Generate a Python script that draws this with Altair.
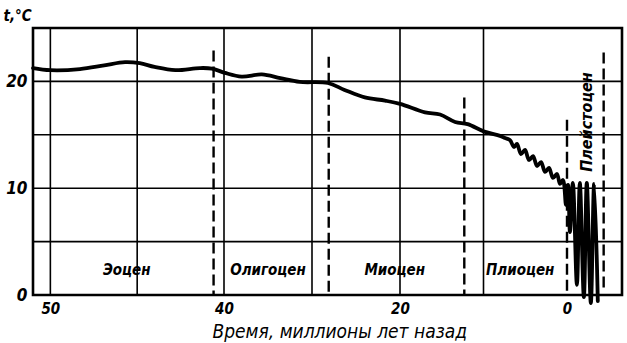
import altair as alt
import pandas as pd

# ---- data (time in million years ago; right of 0 the Pleistocene is drawn on an expanded scale)
curve_time = [51.0, 50.0, 48.3, 46.9, 45.7, 44.85, 44.0, 42.8, 41.4, 40.7, 39.9, 38.0, 35.7,
              33.6, 31.4, 28.2, 26.3, 24.0, 21.7, 20.0, 17.0, 15.2, 13.4, 11.9, 9.9, 8.02, 7.43,
              6.83, 6.35, 5.99, 5.51, 5.03, 4.55, 4.07, 3.59, 3.11, 2.63, 2.16, 1.68, 1.20, 0.84,
              0.48, 0.12, -0.03, -0.08, -0.16, -0.27, -0.35, -0.46, -0.54, -0.65, -0.74, -0.84]
curve_temp = [21.25, 21.05, 21.15, 21.5, 21.8, 21.7, 21.35, 21.05, 21.25, 21.2, 20.8, 20.45, 20.65,
              20.3, 19.95, 19.85, 19.2, 18.5, 18.2, 17.9, 17.1, 16.9, 16.2, 16.0, 15.3, 14.9, 14.7,
              14.5, 13.86, 14.14, 13.2, 13.58, 12.64, 13.0, 12.08, 12.45, 11.52, 11.9, 10.96, 11.33, 10.4,
              10.77, 8.43, 10.3, 5.9, 10.49, 0.94, 10.49, -0.19, 10.49, -0.75, 10.4, -0.56]

boundary_time = [40.6, 28.1, 12.3, 0.0, -1.0]
boundary_top = [22.9, 22.3, 18.5, 16.4, 22.7]
boundary_bottom = [0.0, 0.0, 0.0, 0.0, 0.5]

epoch_names = ["Эоцен", "Олигоцен", "Миоцен", "Плиоцен"]
epoch_time = [45.6, 35.0, 20.6, 5.6]
epoch_temp = [2.3, 2.3, 2.3, 2.3]

pleist_name = ["Плейстоцен"]
pleist_time = [-0.55]
pleist_temp = [16.2]

grid_x = [50, 45, 40, 30, 20, 10]
grid_y = [5, 10, 15, 20]
x_ticks = [50, 40, 20, 0]
y_ticks = [0, 10, 20]

FONT = "DejaVu Sans Condensed, Liberation Sans Narrow, DejaVu Sans"

curve = pd.DataFrame({"t": curve_time, "T": curve_temp, "i": list(range(len(curve_time)))})
bounds = pd.DataFrame({"t": boundary_time, "T": boundary_top, "bot": boundary_bottom})
epochs = pd.DataFrame({"t": epoch_time, "T": epoch_temp, "name": epoch_names})
pleist = pd.DataFrame({"t": pleist_time, "T": pleist_temp, "name": pleist_name})
gx = pd.DataFrame({"t": grid_x})
gy = pd.DataFrame({"T": grid_y})

xs = alt.Scale(domain=[51, 40, 20, 0, -1.5], range=[0, 191, 367, 534, 589], nice=False, zero=False)
ys = alt.Scale(domain=[0, 25], nice=False, zero=False)

x_axis = alt.Axis(values=x_ticks, grid=False, ticks=False, domain=False,
                  labelFont=FONT, labelFontSize=15, labelFontStyle="italic", labelFontWeight="bold",
                  labelColor="black", labelPadding=6,
                  title="Время, миллионы лет назад", titleFont=FONT, titleFontSize=19,
                  titleFontStyle="italic", titleFontWeight="normal", titleColor="black",
                  titleAnchor="start", titleAlign="left", titleX=179, titleY=42,
                  titleBaseline="alphabetic")
y_axis = alt.Axis(values=y_ticks, grid=False, ticks=False, domain=False,
                  labelFont=FONT, labelFontSize=17, labelFontStyle="italic", labelFontWeight="bold",
                  labelColor="black", labelPadding=6,
                  title="t,°C", titleFont=FONT, titleFontSize=15, titleFontStyle="italic",
                  titleFontWeight="bold", titleColor="black", titleAngle=0,
                  titleAlign="left", titleBaseline="alphabetic", titleX=-30, titleY=-8)

X = alt.X("t:Q", scale=xs, axis=x_axis)
Y = alt.Y("T:Q", scale=ys, axis=y_axis)

vgrid = alt.Chart(gx).mark_rule(color="black", strokeWidth=1.6).encode(x=X)
hgrid = alt.Chart(gy).mark_rule(color="black", strokeWidth=1.6).encode(y=Y)

dashes = alt.Chart(bounds).mark_rule(color="black", strokeWidth=2.4, strokeDash=[11, 5]).encode(
    x=X, y=Y, y2="bot:Q")

line = alt.Chart(curve).mark_line(color="black", strokeWidth=3.8, interpolate="catmull-rom",
                                  strokeCap="round", strokeJoin="round").encode(
    x=X, y=Y, order="i:Q")

labels = alt.Chart(epochs).mark_text(font=FONT, fontSize=15, fontStyle="italic", fontWeight="bold",
                                     color="black").encode(x=X, y=Y, text="name:N")

plabel = alt.Chart(pleist).mark_text(font=FONT, fontSize=16, fontStyle="italic", fontWeight="bold",
                                     color="black", angle=270).encode(x=X, y=Y, text="name:N")

chart = alt.layer(vgrid, hgrid, dashes, line, labels, plabel).properties(
    width=589, height=267,
    padding={"left": 33, "top": 28, "right": 5, "bottom": 48},
    autosize="none",
    background="white",
).configure_view(stroke="black", strokeWidth=2.6)

chart.save("out.html", embed_options={"renderer": "svg", "actions": False})
